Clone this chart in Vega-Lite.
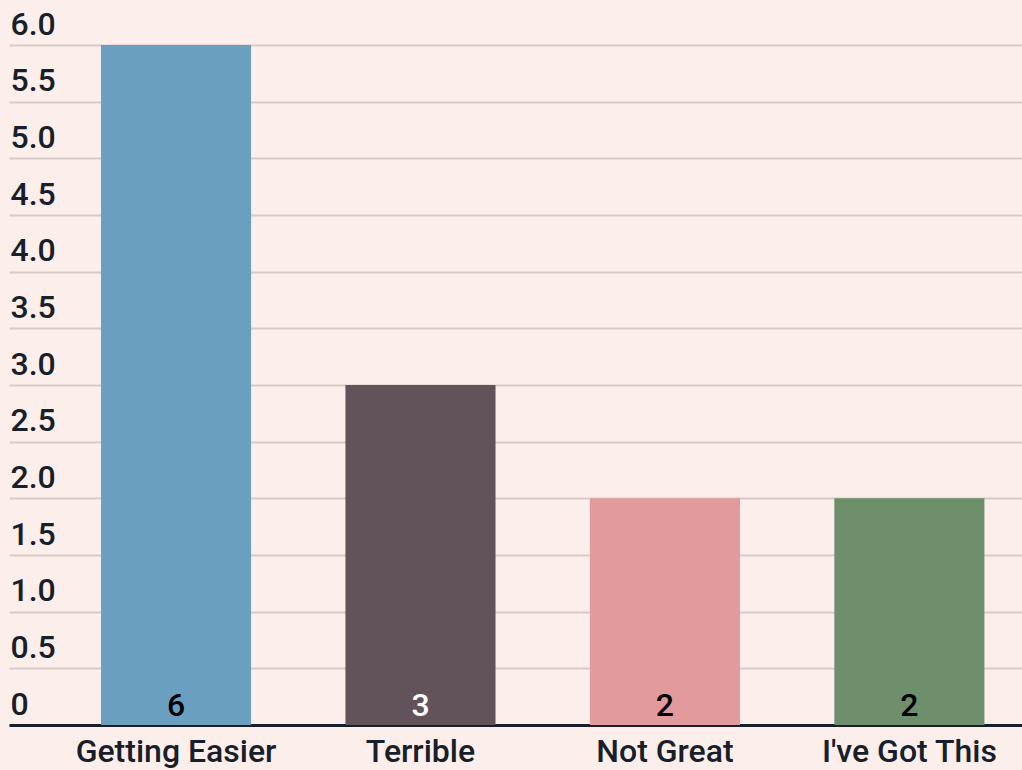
{
  "$schema": "https://vega.github.io/schema/vega-lite/v6.json",
  "width": 1013,
  "height": 680,
  "autosize": {"type": "none"},
  "padding": {"left": 9, "top": 45, "right": 0, "bottom": 45},
  "background": "#fcefeb",
  "config": {
    "view": {"stroke": null},
    "font": "Roboto"
  },
  "data": {
    "values": [
      {"mood": "Getting Easier", "count": 6},
      {"mood": "Terrible", "count": 3},
      {"mood": "Not Great", "count": 2},
      {"mood": "I've Got This", "count": 2}
    ]
  },
  "encoding": {
    "x": {
      "field": "mood",
      "type": "nominal",
      "sort": null,
      "scale": {"paddingInner": 0.386, "paddingOuter": 0.265, "align": 0.71},
      "axis": {
        "title": null,
        "labelAngle": 0,
        "labelFont": "Roboto",
        "labelFontSize": 32,
        "labelFontWeight": 500,
        "labelColor": "#17202a",
        "labelPadding": 11,
        "labelLimit": 0,
        "ticks": false,
        "tickSize": 0,
        "domainColor": "#17202a",
        "domainWidth": 3,
        "grid": false
      }
    }
  },
  "layer": [
    {
      "mark": {"type": "bar"},
      "encoding": {
        "y": {
          "field": "count",
          "type": "quantitative",
          "scale": {"domain": [0, 6]},
          "axis": {
            "title": null,
            "values": [0, 0.5, 1, 1.5, 2, 2.5, 3, 3.5, 4, 4.5, 5, 5.5, 6],
            "labelExpr": "datum.value == 0 ? '0' : format(datum.value, '.1f')",
            "labelAlign": "left",
            "labelBaseline": "alphabetic",
            "labelOffset": -11,
            "labelPadding": -1,
            "labelFont": "Roboto",
            "labelFontSize": 32,
            "labelFontWeight": 500,
            "labelColor": "#17202a",
            "ticks": false,
            "tickSize": 0,
            "domain": false,
            "grid": true,
            "gridColor": "#d9c9c6",
            "gridWidth": 2
          }
        },
        "color": {
          "field": "mood",
          "type": "nominal",
          "scale": {
            "domain": ["Getting Easier", "Terrible", "Not Great", "I've Got This"],
            "range": ["#6a9fc0", "#625259", "#e29a9c", "#6d8f6c"]
          },
          "legend": null
        }
      }
    },
    {
      "mark": {
        "type": "text",
        "baseline": "alphabetic",
        "align": "center",
        "dy": -9,
        "font": "Roboto",
        "fontSize": 32,
        "fontWeight": 500
      },
      "encoding": {
        "y": {"datum": 0, "type": "quantitative"},
        "text": {"field": "count", "type": "quantitative"},
        "color": {
          "condition": {"test": "datum.mood == 'Terrible'", "value": "#ffffff"},
          "value": "#000000"
        }
      }
    }
  ]
}
